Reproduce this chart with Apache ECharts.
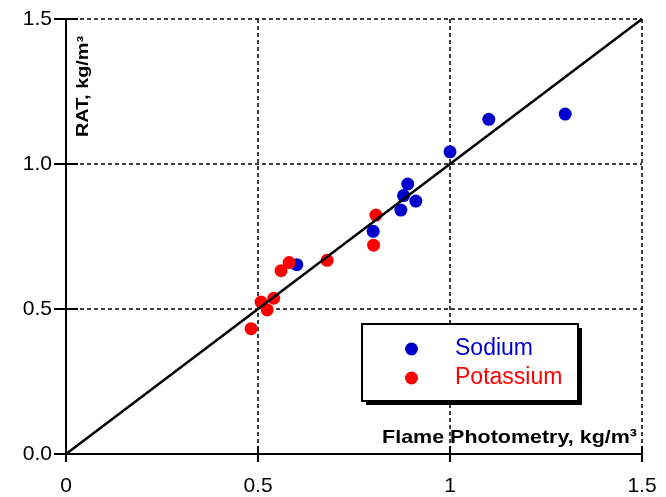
<!DOCTYPE html>
<html>
<head>
<meta charset="utf-8">
<script src="https://cdn.jsdelivr.net/npm/echarts@6/dist/echarts.min.js"></script>
<style>html,body{margin:0;padding:0;background:#fff}#c{width:666px;height:497px}</style>
</head>
<body>
<div id="c"></div>
<script>
var sodiumX = [0.601, 0.800, 0.872, 0.879, 0.890, 0.911, 1.000, 1.101, 1.300];
var sodiumY = [0.653, 0.768, 0.841, 0.891, 0.931, 0.872, 1.042, 1.154, 1.172];
var potassiumX = [0.482, 0.508, 0.524, 0.541, 0.560, 0.581, 0.680, 0.801, 0.807];
var potassiumY = [0.432, 0.524, 0.497, 0.537, 0.632, 0.660, 0.668, 0.720, 0.824];
var refLine = [[0, 0], [1.5, 1.5]];
var xTickLabels = ['0', '0.5', '1', '1.5'];
var yTickLabels = ['0.0', '0.5', '1.0', '1.5'];
var seriesNames = ['Sodium', 'Potassium'];
var xTitle = 'Flame Photometry, kg/m\u00B3';
var yTitle = 'RAT, kg/m\u00B3';

var BLUE = '#0000cc', RED = '#ff0000';
function zip(a, b) { return a.map(function (v, i) { return [v, b[i]]; }); }
function lbl(arr) { return function (v) { var i = Math.round(v / 0.5); return arr[i] !== undefined ? arr[i] : ''; }; }

var chart = echarts.init(document.getElementById('c'), null, {renderer: 'canvas'});
var FONT = 'Liberation Sans, Arial, sans-serif';
var baseAxis = {
  min: 0, max: 1.5, interval: 0.5,
  axisLine: {show: true, lineStyle: {color: '#000', width: 2}},
  axisTick: {show: true, inside: true, length: 8, lineStyle: {color: '#000', width: 2}},
  splitLine: {show: false},
  axisLabel: {show: false}
};
chart.setOption({
  animation: false,
  backgroundColor: '#fff',
  grid: {left: 66, right: 24, top: 19, bottom: 43, containLabel: false},
  xAxis: [
    Object.assign({}, baseAxis, {
      type: 'value', position: 'bottom',
      splitLine: {show: true, lineStyle: {color: '#000', width: 1.5, type: [4, 3]}},
      axisLabel: {show: true, formatter: lbl(xTickLabels), color: '#000', fontSize: 21, fontFamily: FONT, margin: 22}
    }),
    Object.assign({}, baseAxis, {type: 'value', position: 'top'})
  ],
  yAxis: [
    Object.assign({}, baseAxis, {
      type: 'value', position: 'left',
      axisTick: {show: true, inside: true, length: 12, lineStyle: {color: '#000', width: 2}},
      splitLine: {show: true, lineStyle: {color: '#000', width: 1.5, type: [4, 3]}},
      axisLabel: {show: true, formatter: lbl(yTickLabels), color: '#000', fontSize: 21, fontFamily: FONT, margin: 14}
    }),
    Object.assign({}, baseAxis, {type: 'value', position: 'right',
      axisTick: {show: true, inside: true, length: 12, lineStyle: {color: '#000', width: 2}}})
  ],
  legend: {
    show: true,
    orient: 'vertical',
    left: 362, top: 324,
    padding: [11, 0, 0, 43],
    itemWidth: 13, itemHeight: 13, itemGap: 1,
    z: 20,
    textStyle: {fontSize: 23, fontFamily: FONT, lineHeight: 28, padding: [0, 0, 0, 32]},
    data: [
      {name: seriesNames[0], icon: 'circle', textStyle: {color: BLUE}},
      {name: seriesNames[1], icon: 'circle', textStyle: {color: RED}}
    ]
  },
  series: [
    {name: seriesNames[0], type: 'scatter', data: zip(sodiumX, sodiumY), symbol: 'circle', symbolSize: 13,
      itemStyle: {color: BLUE, opacity: 1}, z: 3},
    {name: seriesNames[1], type: 'scatter', data: zip(potassiumX, potassiumY), symbol: 'circle', symbolSize: 13,
      itemStyle: {color: RED, opacity: 1}, z: 4},
    {name: 'ref', type: 'line', data: refLine, symbol: 'none', lineStyle: {color: '#000', width: 2.5}, z: 5, silent: true}
  ],
  graphic: [
    {type: 'rect', z: 15, shape: {x: 366, y: 328, width: 216, height: 77}, style: {fill: '#000'}},
    {type: 'rect', z: 16, shape: {x: 362, y: 324, width: 216, height: 77}, style: {fill: '#fff', stroke: '#000', lineWidth: 2}},
    {type: 'text', x: 637, y: 438, scaleX: 1.13, z: 10,
      style: {text: xTitle, fill: '#000', font: 'bold 19px ' + FONT, textAlign: 'right', textVerticalAlign: 'middle'}},
    {type: 'text', x: 84, y: 137, rotation: Math.PI / 2, scaleX: 1.24, z: 10,
      style: {text: yTitle, fill: '#000', font: 'bold 16px ' + FONT, textAlign: 'left', textVerticalAlign: 'middle'}}
  ]
});
</script>
</body>
</html>
